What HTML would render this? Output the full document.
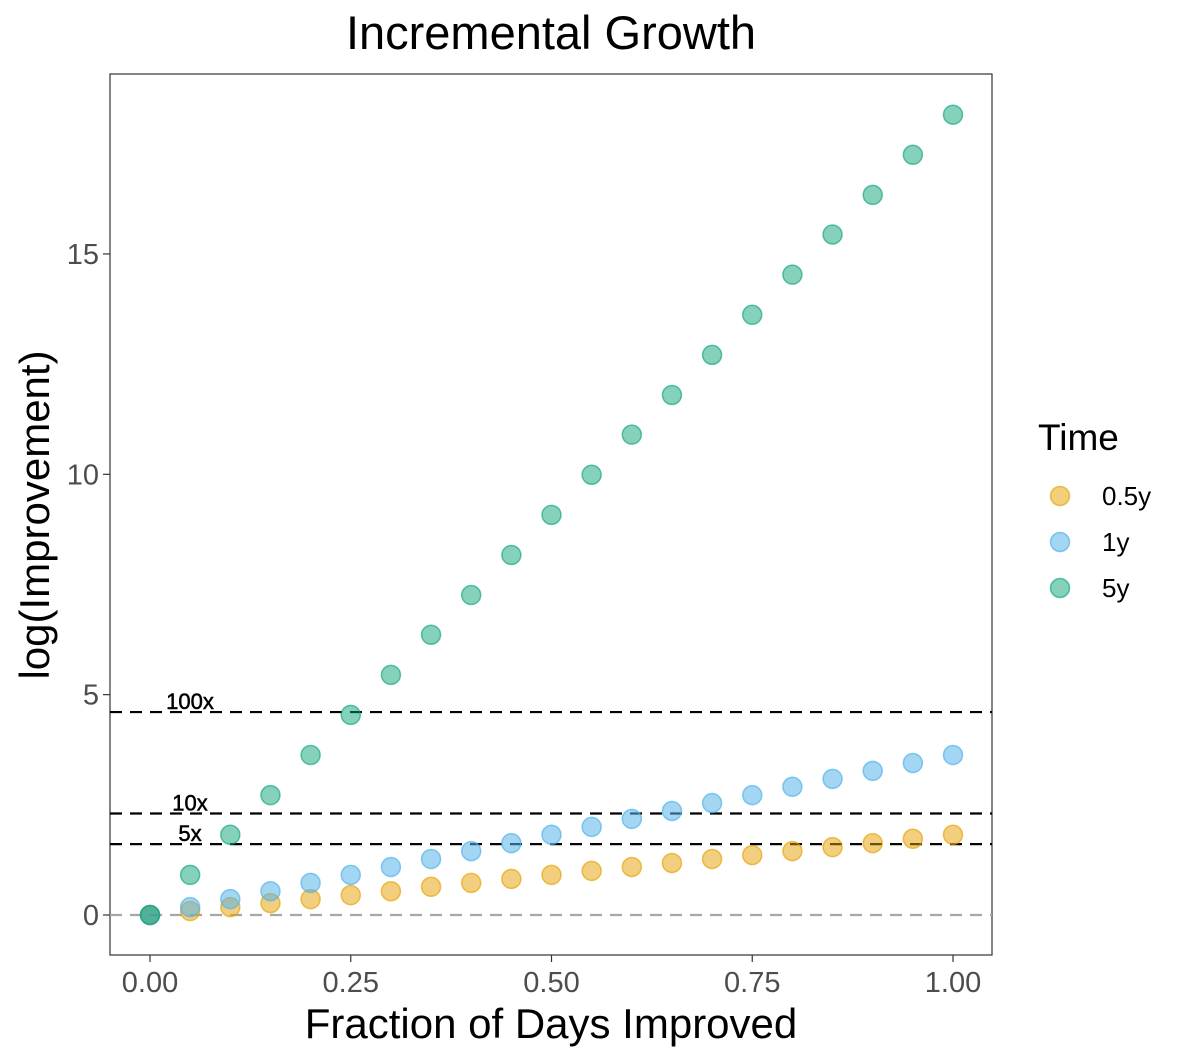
<!DOCTYPE html>
<html><head><meta charset="utf-8"><style>
body{margin:0;background:#fff;}
svg{display:block;font-family:"Liberation Sans",sans-serif;}
</style></head><body>
<svg id="chart" width="1182" height="1060">
<text x="551" y="49" text-anchor="middle" font-size="47">Incremental Growth</text>
<rect x="110" y="74" width="882" height="881" fill="#fff" stroke="#333" stroke-width="1.2"/>
<g id="axes"></g>
<g id="refs"></g>
<g id="points"></g>
<text x="551" y="1038" text-anchor="middle" font-size="42">Fraction of Days Improved</text>
<text transform="translate(49,515) rotate(-90)" text-anchor="middle" font-size="42">log(Improvement)</text>
<g>
<text x="1038" y="450" font-size="37">Time</text>
<g><circle cx="1060" cy="496" r="9.5" fill="rgba(230,159,0,0.5)" stroke="rgba(230,159,0,0.65)" stroke-width="1.5"/><text x="1102" y="505" font-size="26">0.5y</text></g>
<g><circle cx="1060" cy="542" r="9.5" fill="rgba(86,180,233,0.55)" stroke="rgba(86,180,233,0.7)" stroke-width="1.5"/><text x="1102" y="551" font-size="26">1y</text></g>
<g><circle cx="1060" cy="588" r="9.5" fill="rgba(0,158,115,0.48)" stroke="rgba(0,158,115,0.6)" stroke-width="1.5"/><text x="1102" y="597" font-size="26">5y</text></g>
</g>
</svg>
<script>
const fractions=[0,0.05,0.1,0.15,0.2,0.25,0.3,0.35,0.4,0.45,0.5,0.55,0.6,0.65,0.7,0.75,0.8,0.85,0.9,0.95,1.0];
const halfYear=[0,0.09,0.18,0.27,0.36,0.45,0.54,0.64,0.73,0.82,0.91,1.00,1.09,1.18,1.27,1.36,1.45,1.54,1.63,1.73,1.82];
const oneYear=[0,0.18,0.36,0.54,0.73,0.91,1.09,1.27,1.45,1.63,1.82,2.00,2.18,2.36,2.54,2.72,2.91,3.09,3.27,3.45,3.63];
const fiveYear=[0,0.91,1.82,2.72,3.63,4.54,5.45,6.36,7.26,8.17,9.08,9.99,10.90,11.80,12.71,13.62,14.53,15.44,16.34,17.25,18.16];
const xTicks=[0,0.25,0.5,0.75,1.0];
const xTickLabels=["0.00","0.25","0.50","0.75","1.00"];
const yTicks=[0,5,10,15];
const refValues=[4.605,2.303,1.609];
const refLabels=["100x","10x","5x"];
const NS="http://www.w3.org/2000/svg";
const xs=v=>150+v*803;
const ys=v=>915-v*44.07;
function mk(tag,attrs,parent){const e=document.createElementNS(NS,tag);for(const k in attrs)e.setAttribute(k,attrs[k]);parent.appendChild(e);return e;}
const axes=document.getElementById('axes');
xTicks.forEach((t,i)=>{
 const l=mk('line',{x1:xs(t),x2:xs(t),y1:955,y2:962,stroke:'#333','stroke-width':1.2},axes);
 
 
 const tx=mk('text',{x:xs(t),y:992,'text-anchor':'middle','font-size':29,fill:'#4d4d4d'},axes);
 tx.textContent=xTickLabels[i];
 
 
});
yTicks.forEach(t=>{
 const l=mk('line',{x1:103,x2:110,y1:ys(t),y2:ys(t),stroke:'#333','stroke-width':1.2},axes);
 
 
 const tx=mk('text',{x:99,y:ys(t)+10,'text-anchor':'end','font-size':29,fill:'#4d4d4d'},axes);
 tx.textContent=t;
 
 
});
const refs=document.getElementById('refs');
const z=mk('line',{x1:110,x2:992,y1:ys(0),y2:ys(0),stroke:'#a6a6a6','stroke-width':2.2,'stroke-dasharray':'12,8'},refs);


refValues.forEach((v,i)=>{
 const l=mk('line',{x1:110,x2:992,y1:ys(v),y2:ys(v),stroke:'#000','stroke-width':2.2,'stroke-dasharray':'12,8'},refs);
 
 
 const tx=mk('text',{x:190,y:ys(v)-3,'text-anchor':'middle','font-size':22,stroke:'#000','stroke-width':0.5},refs);
 tx.textContent=refLabels[i];
 
 
});
const pts=document.getElementById('points');
const series=[[halfYear,'rgba(230,159,0,0.5)','rgba(230,159,0,0.65)','0.5y'],[oneYear,'rgba(86,180,233,0.55)','rgba(86,180,233,0.7)','1y'],[fiveYear,'rgba(0,158,115,0.48)','rgba(0,158,115,0.6)','5y']];
series.forEach(s=>{
 s[0].forEach((v,i)=>{
  const c=mk('circle',{cx:xs(fractions[i]),cy:ys(v),r:9.5,fill:s[1],stroke:s[2],'stroke-width':1.5},pts);
  
  
 });
});
</script>
</body></html>
